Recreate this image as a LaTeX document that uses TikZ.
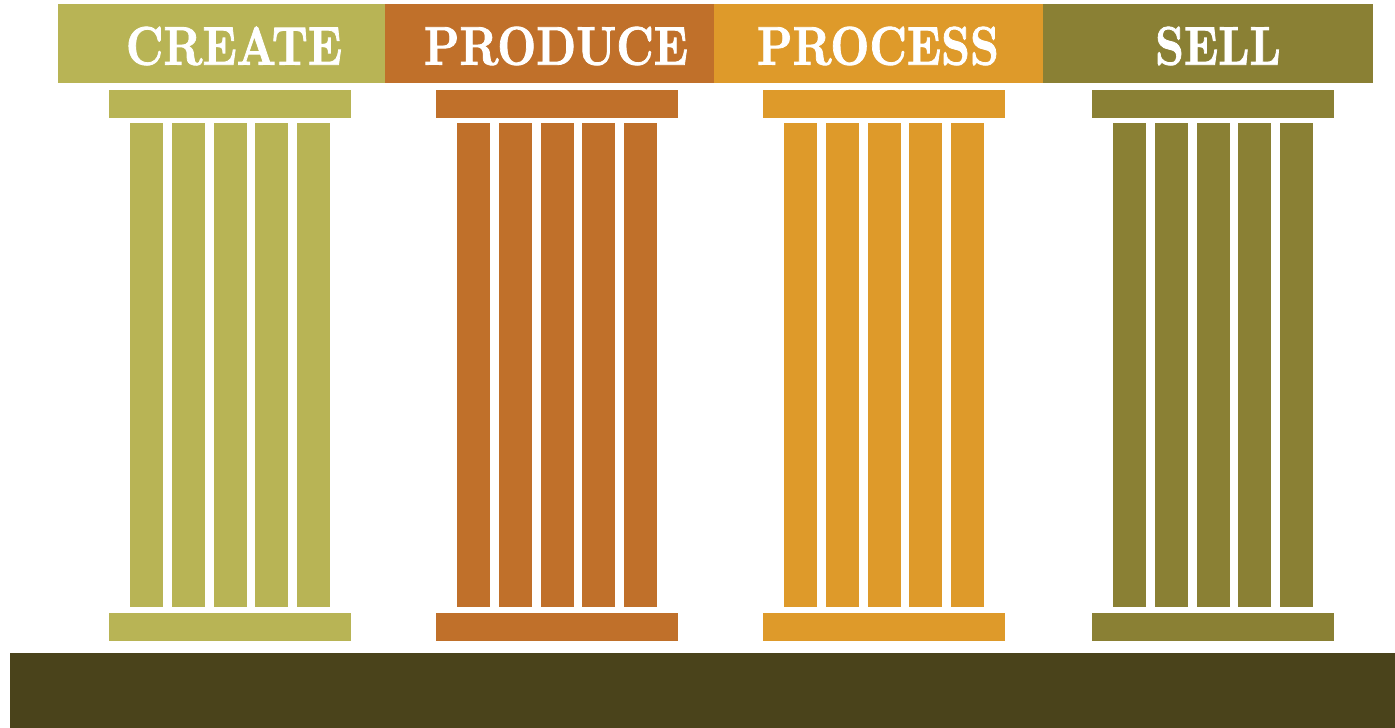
\documentclass[tikz,border=0pt]{standalone}
\usepackage{fontspec}
\newfontfamily\headfont{lmroman10-bold.otf}[FakeBold=1.6]
\definecolor{createcol}{HTML}{B8B455}
\definecolor{producecol}{HTML}{C0702A}
\definecolor{processcol}{HTML}{DE9A2A}
\definecolor{sellcol}{HTML}{8A8034}
\definecolor{plinthcol}{HTML}{4A431B}
\newcommand{\headlabel}[1]{\scalebox{0.83}[1]{\headfont #1}}
\tikzset{
  headbox/.style={minimum width=3.29cm, minimum height=0.79cm},
  headtext/.style={text=white, font=\fontsize{15.5}{16}\selectfont},
  slab/.style={minimum width=2.42cm, minimum height=0.28cm}
}
\begin{document}
\begin{tikzpicture}[x=0.01cm, y=-0.01cm, every node/.style={inner sep=0pt, outer sep=0pt}]
  \useasboundingbox (0,0) rectangle (1395,728);
  % header band
  \node[headbox, fill=createcol] (hcreate) at (222.5,43.5) {};
  \node[headbox, fill=producecol] (hproduce) at (550,43.5) {};
  \node[headbox, fill=processcol] (hprocess) at (878.5,43.5) {};
  \node[headbox, fill=sellcol] (hsell) at (1208,43.5) {};
  \node[headtext] (tcreate) at (234,46) {\headlabel{CREATE}};
  \node[headtext] (tproduce) at (556,46) {\headlabel{PRODUCE}};
  \node[headtext] (tprocess) at (878,46) {\headlabel{PROCESS}};
  \node[headtext] (tsell) at (1218,46) {\headlabel{SELL}};
  % pillars
  \foreach \name/\col/\cx in {create/createcol/230, produce/producecol/557, process/processcol/884, sell/sellcol/1213} {
    \node[slab, fill=\col] (cap\name) at (\cx,104) {};
    \node[slab, fill=\col] (base\name) at (\cx,627) {};
    \foreach \i in {0,...,4}
      \fill[\col] (\cx-100+\i*41.75,123) rectangle ++(33,484);
  }
  % plinth
  \node[fill=plinthcol, anchor=north west, minimum width=13.85cm, minimum height=0.75cm] (plinth) at (10,653) {};
\end{tikzpicture}
\end{document}
